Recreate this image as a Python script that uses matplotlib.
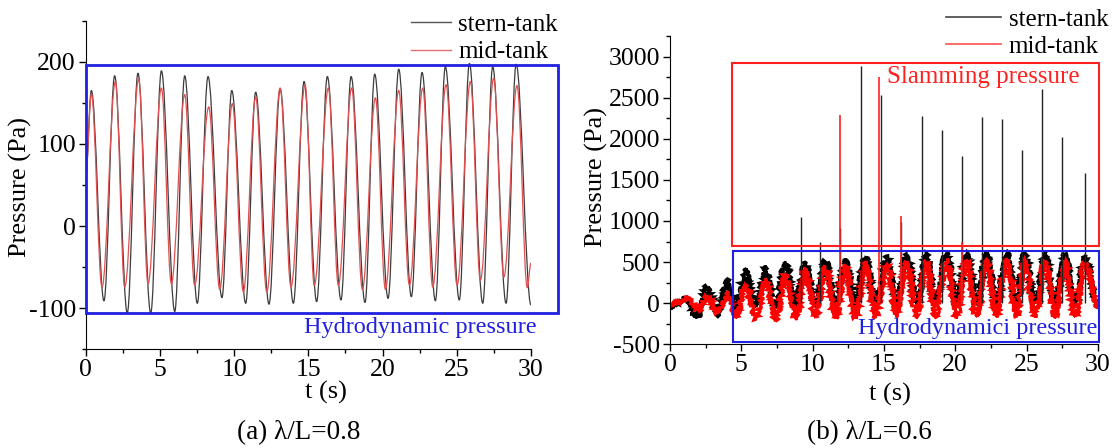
import matplotlib
matplotlib.use("Agg")
import matplotlib.pyplot as plt
from matplotlib.path import Path
from matplotlib.patches import PathPatch, Rectangle
from matplotlib.lines import Line2D
from matplotlib.ticker import MultipleLocator

plt.rcParams['font.family'] = ['Liberation Serif', 'DejaVu Serif']
plt.rcParams['font.size'] = 18
plt.rcParams['axes.unicode_minus'] = False

# ---- (a) lambda/L = 0.8 : extrema (t in s, p in Pa)
a_stern_t = [0.0, 0.38, 1.23, 1.95, 2.80, 3.52, 4.38, 5.10, 6.00, 6.67, 7.52, 8.24, 9.18,
             9.84, 10.78, 11.45, 12.35, 13.10, 13.99, 14.71, 15.56, 16.28, 17.20, 17.88,
             18.82, 19.47, 20.37, 21.09, 21.94, 22.66, 23.56, 24.23, 25.17, 25.85, 26.75,
             27.42, 28.32, 29.00, 30.0]
a_stern_p = [60, 165, -91, 183, -106, 186, -106, 189, -104, 183, -94, 182, -87,
             165, -94, 163, -95, 167, -94, 176, -92, 182, -90, 182,
             -93, 185, -88, 191, -86, 187, -91, 194, -90, 198, -94,
             194, -94, 197, -96]
a_mid_t = [0.0, 0.38, 1.10, 2.00, 2.63, 3.57, 4.20, 5.10, 5.77, 6.67, 7.34, 8.29, 9.03,
           9.88, 10.62, 11.45, 12.20, 13.10, 13.83, 14.78, 15.40, 16.35, 17.02, 17.92,
           18.64, 19.52, 20.19, 21.09, 21.81, 22.71, 23.38, 24.28, 25.02, 25.92, 26.59,
           27.49, 28.17, 29.06, 29.75, 30.0]
a_mid_p = [60, 161, -74, 176, -74, 179, -70, 168, -70, 160, -72, 145, -77,
           149, -80, 157, -80, 168, -74, 172, -72, 168, -72, 168,
           -77, 156, -77, 165, -72, 168, -74, 172, -72, 176, -66,
           180, -62, 171, -75, -45]

# ---- (b) lambda/L = 0.6
b_stern_t = [0.0, 1.1, 1.9, 2.6, 3.3, 4.0, 4.6, 5.3, 6.0, 6.7, 7.4, 8.1, 8.8, 9.5, 10.2,
             10.9, 11.6, 12.3, 13.0, 13.7, 14.4, 15.2, 15.9, 16.6, 17.3, 18.0, 18.6,
             19.4, 20.1, 20.8, 21.5, 22.2, 22.9, 23.6, 24.3, 24.9, 25.6, 26.3, 27.0,
             27.7, 28.4, 29.1, 30.0]
b_stern_p = [-50, 60, -170, 200, -140, 270, -60, 400, -40, 430, -40, 490, -30, 480, -20,
             510, -20, 530, -20, 550, -10, 550, -10, 580, -10, 590, 0,
             610, 0, 600, 0, 610, 0, 600, 0, 610, 0, 600, 0,
             590, 0, 570, -20]
b_mid_t = [0.0, 1.2, 2.0, 2.6, 3.3, 4.1, 4.6, 5.3, 6.0, 6.7, 7.4, 8.1, 8.8, 9.5, 10.2,
           10.9, 11.6, 12.3, 13.0, 13.7, 14.4, 15.2, 15.9, 16.6, 17.3, 18.0, 18.6,
           19.4, 20.1, 20.8, 21.5, 22.2, 22.9, 23.6, 24.3, 24.9, 25.6, 26.3, 27.0,
           27.7, 28.4, 29.1, 30.0]
b_mid_p = [-20, 60, -80, 80, -120, 120, -170, 220, -190, 280, -190, 350, -180, 390, -180,
           430, -180, 450, -170, 470, -170, 480, -160, 490, -160, 500, -160,
           520, -160, 510, -160, 520, -150, 520, -160, 520, -160, 510, -160,
           500, -160, 480, -60]

# slamming spikes (t, peak pressure)
spike_stern_t = [9.16, 10.54, 11.92, 13.39, 14.80, 16.20, 17.65, 19.05, 20.46, 21.86,
                 23.26, 24.66, 26.07, 27.47, 29.10]
spike_stern_p = [1050, 750, 910, 2886, 2533, 990, 2277, 2107, 1795, 2261,
                 2241, 1864, 2602, 2026, 1580]
spike_mid_t = [11.92, 14.68, 16.20, 20.46]
spike_mid_p = [2290, 2756, 1061, 740]

K = 0.36


def smooth_path(ts, ps):
    """Bezier through the read extrema, flat tangent at each point."""
    verts = [(ts[0], ps[0])]
    codes = [Path.MOVETO]
    for i in range(1, len(ts)):
        dt = ts[i] - ts[i - 1]
        verts += [(ts[i - 1] + K * dt, ps[i - 1]), (ts[i] - K * dt, ps[i]), (ts[i], ps[i])]
        codes += [Path.CURVE4] * 3
    return Path(verts, codes)


def add_curve(ax, ts, ps, color, lw, noisy=False):
    patch = PathPatch(smooth_path(ts, ps), fill=False, edgecolor=color, lw=lw,
                      transform=ax.transData)
    if noisy:
        patch.set_sketch_params(scale=2.5, length=1.2, randomness=3.0)
    ax.add_patch(patch)


def style_axes(ax):
    for s in ['top', 'right']:
        ax.spines[s].set_visible(False)
    ax.tick_params(direction='out', length=5, width=1, labelsize=18.5, pad=2)
    ax.tick_params(which='minor', direction='out', length=3, width=1)
    ax.xaxis.set_major_locator(MultipleLocator(5))
    ax.xaxis.set_minor_locator(MultipleLocator(2.5))


fig = plt.figure(figsize=(11.16, 4.48), dpi=100)

# ------------------------------------------------------------------ (a)
ax1 = fig.add_axes([0.0768, 0.2203, 0.399, 0.7335])
style_axes(ax1)
ax1.set_xlim(0, 30)
ax1.set_ylim(-150, 250)
ax1.yaxis.set_major_locator(MultipleLocator(100))
ax1.yaxis.set_minor_locator(MultipleLocator(50))
ax1.set_yticks([-100, 0, 100, 200])
add_curve(ax1, a_stern_t, a_stern_p, '#3c3c3c', 0.9)
add_curve(ax1, a_mid_t, a_mid_p, '#e05050', 0.9)
ax1.add_patch(Rectangle((0, -105.7), 31.8, 301.7, fill=False, edgecolor='#2020e0',
                        lw=2, clip_on=False, zorder=4))
ax1.text(30.35, -124, 'Hydrodynamic pressure', color='#2020e0', ha='right',
         va='center', fontsize=17.5)
ax1.set_xlabel('t (s)', fontsize=19)
ax1.set_ylabel('Pressure (Pa)', fontsize=19)
ax1.xaxis.set_label_coords(0.54, -0.097)
ax1.yaxis.set_label_coords(-0.12, 0.494)
fig.legend(handles=[Line2D([], [], color='#555555', lw=1),
                    Line2D([], [], color='#e87070', lw=1)],
           labels=['stern-tank', 'mid-tank'], loc='upper left',
           bbox_to_anchor=(0.368, 0.97), frameon=False, borderpad=0,
           borderaxespad=0, handlelength=1.6, handletextpad=0.3,
           labelspacing=0.2, fontsize=18)
fig.text(0.268, 0.035, '(a) λ/L=0.8', ha='center', va='center', fontsize=19.5)

# ------------------------------------------------------------------ (b)
ax2 = fig.add_axes([0.6004, 0.2315, 0.3833, 0.6882])
style_axes(ax2)
ax2.set_xlim(0, 30)
ax2.set_ylim(-500, 3250)
ax2.yaxis.set_major_locator(MultipleLocator(500))
ax2.yaxis.set_minor_locator(MultipleLocator(250))
ax2.vlines(spike_stern_t, 0, spike_stern_p, color='#222222', lw=1.0, zorder=2)
add_curve(ax2, b_stern_t, b_stern_p, 'black', 2.2, noisy=True)
add_curve(ax2, b_mid_t, b_mid_p, '#ff0000', 2.2, noisy=True)
ax2.vlines(spike_mid_t, 0, spike_mid_p, color='#ff2020', lw=1.2, zorder=2.5)
ax2.add_patch(Rectangle((4.37, 690), 25.73, 2230, fill=False, edgecolor='#ff2020',
                        lw=1.5, clip_on=False, zorder=4))
ax2.add_patch(Rectangle((4.4, -476), 25.7, 1106, fill=False, edgecolor='#2020e0',
                        lw=1.5, clip_on=False, zorder=4))
ax2.text(15.2, 2757, 'Slamming pressure', color='#ff2020', ha='left',
         va='center', fontsize=18)
ax2.text(29.95, -306, 'Hydrodynamici pressure', color='#2020e0', ha='right',
         va='center', fontsize=17.5)
ax2.set_xlabel('t (s)', fontsize=19)
ax2.set_ylabel('Pressure (Pa)', fontsize=19)
ax2.xaxis.set_label_coords(0.514, -0.125)
ax2.yaxis.set_label_coords(-0.145, 0.541)
fig.legend(handles=[Line2D([], [], color='#444444', lw=1.2),
                    Line2D([], [], color='#ff5050', lw=1.2)],
           labels=['stern-tank', 'mid-tank'], loc='upper left',
           bbox_to_anchor=(0.848, 0.982), frameon=False, borderpad=0,
           borderaxespad=0, handlelength=2.2, handletextpad=0.3,
           labelspacing=0.2, fontsize=18)
fig.text(0.779, 0.035, '(b) λ/L=0.6', ha='center', va='center', fontsize=19.5)

fig.savefig('out.png', dpi=100)
